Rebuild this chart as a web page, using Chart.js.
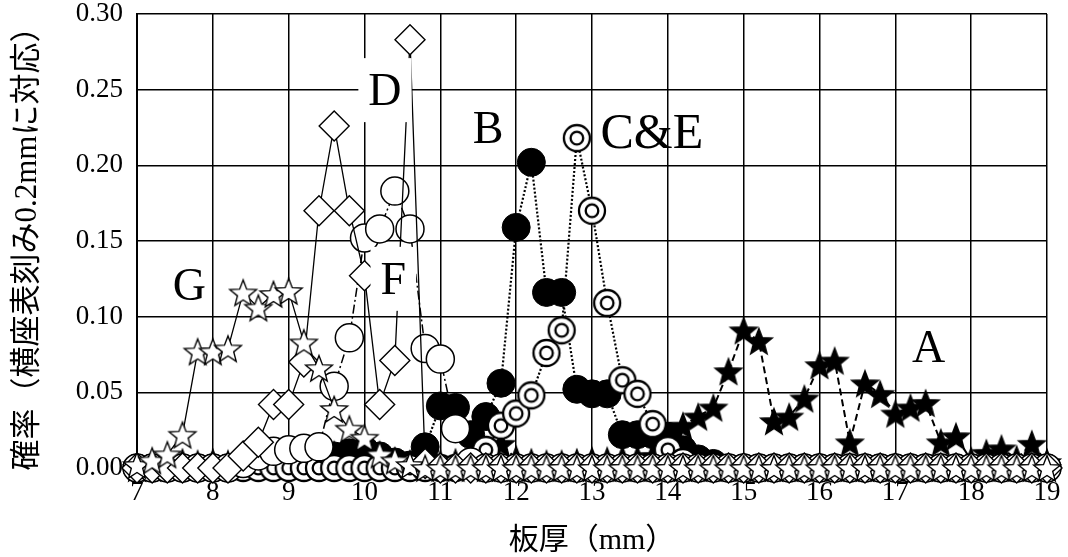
<!DOCTYPE html>
<html>
  <head>
    <title>板厚の確率分布</title>
    <script src="https://cdn.jsdelivr.net/npm/chart.js"></script>
    <style>
      html, body { margin: 0; padding: 0; background: #fff; }
    </style>
  </head>

  <body>
    <canvas id="bunpu" width="1068" height="557"></canvas>

    <script>
      // 板厚 (mm), 0.2mm刻み
      var thickness = [
        7.0, 7.2, 7.4, 7.6, 7.8, 8.0, 8.2, 8.4, 8.6, 8.8,
        9.0, 9.2, 9.4, 9.6, 9.8, 10.0, 10.2, 10.4, 10.6, 10.8,
        11.0, 11.2, 11.4, 11.6, 11.8, 12.0, 12.2, 12.4, 12.6, 12.8,
        13.0, 13.2, 13.4, 13.6, 13.8, 14.0, 14.2, 14.4, 14.6, 14.8,
        15.0, 15.2, 15.4, 15.6, 15.8, 16.0, 16.2, 16.4, 16.6, 16.8,
        17.0, 17.2, 17.4, 17.6, 17.8, 18.0, 18.2, 18.4, 18.6, 18.8,
        19.0
      ];

      var seriesA = [
        0, 0, 0.002, 0.004, 0.003, 0.004, 0.003, 0.004, 0.005, 0.004,
        0.005, 0.006, 0.008, 0.009, 0.010, 0.008, 0.006, 0.004, 0.003, 0.002,
        0.003, 0.004, 0.006, 0.008, 0.016, 0.006, 0.004, 0.003, 0.003, 0.004,
        0.005, 0.005, 0.006, 0.006, 0.008, 0.014, 0.028, 0.034, 0.040, 0.064,
        0.091, 0.084, 0.031, 0.034, 0.046, 0.068, 0.071, 0.017, 0.056, 0.049,
        0.036, 0.040, 0.043, 0.017, 0.021, 0.005, 0.010, 0.013, 0.006, 0.016,
        0.004
      ];

      var seriesB = [
        0, 0, 0, 0, 0, 0, 0, 0.002, 0.003, 0.004,
        0.004, 0.005, 0.006, 0.008, 0.010, 0.012, 0.008, 0.004, 0.002, 0.014,
        0.041, 0.040, 0.022, 0.034, 0.056, 0.159, 0.202, 0.116, 0.116, 0.052,
        0.049, 0.049, 0.022, 0.022, 0.022, 0.021, 0.012, 0.006, 0.003, 0,
        0, 0, 0, 0, 0, 0, 0, 0, 0, 0,
        0, 0, 0, 0, 0, 0, 0, 0, 0, 0,
        0
      ];

      var seriesCE = [
        0, 0, 0, 0, 0, 0, 0, 0, 0, 0,
        0, 0, 0, 0, 0, 0, 0, 0, 0, 0,
        0, 0, 0.004, 0.012, 0.028, 0.036, 0.048, 0.076, 0.091, 0.218,
        0.170, 0.109, 0.058, 0.049, 0.029, 0.012, 0.004, 0, 0, 0,
        0, 0, 0, 0, 0, 0, 0, 0, 0, 0,
        0, 0, 0, 0, 0, 0, 0, 0, 0, 0,
        0
      ];

      var seriesD = [
        0, 0, 0, 0, 0, 0, 0, 0.008, 0.017, 0.042,
        0.042, 0.070, 0.170, 0.226, 0.170, 0.127, 0.042, 0.071, 0.283, 0.003,
        0, 0, 0, 0, 0, 0, 0, 0, 0, 0,
        0, 0, 0, 0, 0, 0, 0, 0, 0, 0,
        0, 0, 0, 0, 0, 0, 0, 0, 0, 0,
        0, 0, 0, 0, 0, 0, 0, 0, 0, 0,
        0
      ];

      var seriesF = [
        0, 0, 0, 0, 0, 0, 0, 0.003, 0.008, 0.011,
        0.012, 0.013, 0.014, 0.054, 0.086, 0.152, 0.158, 0.183, 0.158, 0.079,
        0.072, 0.026, 0.004, 0, 0, 0, 0, 0, 0, 0,
        0, 0, 0, 0, 0, 0, 0, 0, 0, 0,
        0, 0, 0, 0, 0, 0, 0, 0, 0, 0,
        0, 0, 0, 0, 0, 0, 0, 0, 0, 0,
        0
      ];

      var seriesG = [
        0.002, 0.005, 0.009, 0.022, 0.077, 0.077, 0.079, 0.116, 0.106, 0.115,
        0.117, 0.083, 0.066, 0.039, 0.026, 0.020, 0.009, 0.005, 0.002, 0,
        0, 0, 0, 0, 0, 0, 0, 0, 0, 0,
        0, 0, 0, 0, 0, 0, 0, 0, 0, 0,
        0, 0, 0, 0, 0, 0, 0, 0, 0, 0,
        0, 0, 0, 0, 0, 0, 0, 0, 0, 0,
        0
      ];

      var yTicks = [0, 0.05, 0.1, 0.15, 0.2, 0.25, 0.3];

      // 図中の記号 (データ座標)
      var labelText = ["G", "D", "F", "B", "C&E", "A"];
      var labelX = [7.69, 10.27, 10.38, 11.63, 13.79, 17.44];
      var labelY = [0.1206, 0.2497, 0.125, 0.2246, 0.2213, 0.0797];
      var labelBox = [false, true, true, false, false, false];

      var serif = "'Liberation Serif', 'Times New Roman', serif";
      var jp = "'Liberation Serif', 'Noto Sans CJK JP', serif";

      function pares(valores) {
        return thickness.map(function (t, i) {
          return { x: t, y: valores[i] };
        });
      }

      function estrela(cheia) {
        var R = 14, r = 6, s = 34;
        var c = document.createElement("canvas");
        c.width = s;
        c.height = s;
        var g = c.getContext("2d");
        g.translate(s / 2, s / 2 + 1.5);
        g.beginPath();
        for (var i = 0; i < 10; i++) {
          var raio = i % 2 == 0 ? R : r;
          var a = -Math.PI / 2 + (i * Math.PI) / 5;
          g.lineTo(raio * Math.cos(a), raio * Math.sin(a));
        }
        g.closePath();
        g.fillStyle = cheia ? "#000" : "#fff";
        g.fill();
        g.lineWidth = 1.4;
        g.strokeStyle = "#000";
        g.stroke();
        return c;
      }

      function anel() {
        var s = 32;
        var c = document.createElement("canvas");
        c.width = s;
        c.height = s;
        var g = c.getContext("2d");
        g.translate(s / 2, s / 2);
        g.strokeStyle = "#000";
        g.lineWidth = 2.3;
        g.beginPath();
        g.arc(0, 0, 13, 0, 2 * Math.PI);
        g.fillStyle = "#fff";
        g.fill();
        g.stroke();
        g.beginPath();
        g.arc(0, 0, 6.3, 0, 2 * Math.PI);
        g.stroke();
        return c;
      }

      var rotulos = {
        id: "rotulos",
        afterDatasetsDraw: function (chart) {
          var ctx = chart.ctx;
          var sx = chart.scales.x;
          var sy = chart.scales.y;
          ctx.save();
          ctx.textAlign = "center";
          ctx.textBaseline = "alphabetic";
          labelText.forEach(function (t, i) {
            ctx.font = (t.length > 1 ? 50 : 46) + "px " + serif;
            var px = sx.getPixelForValue(labelX[i]);
            var py = sy.getPixelForValue(labelY[i]);
            if (labelBox[i]) {
              var w = ctx.measureText(t).width;
              ctx.fillStyle = "#fff";
              ctx.fillRect(px - w / 2 - 10, py - 32, w + 20, 64);
            }
            ctx.fillStyle = "#000";
            ctx.fillText(t, px, py + 15);
          });
          ctx.restore();
        },
      };

      var base = {
        fill: false,
        tension: 0,
        clip: false,
        borderColor: "#000",
        pointBorderColor: "#000",
      };

      var grafico = new Chart(document.getElementById("bunpu").getContext("2d"), {
        type: "line",
        data: {
          datasets: [
            Object.assign({}, base, {
              label: "G",
              data: pares(seriesG),
              order: 0,
              borderWidth: 1.3,
              pointStyle: estrela(false),
              pointRadius: 13,
            }),
            Object.assign({}, base, {
              label: "D",
              data: pares(seriesD),
              order: 1,
              borderWidth: 1.3,
              pointStyle: "rectRot",
              pointRadius: 15,
              pointBackgroundColor: "#fff",
              pointBorderWidth: 1.4,
            }),
            Object.assign({}, base, {
              label: "F",
              data: pares(seriesF),
              order: 2,
              borderWidth: 1.5,
              borderDash: [9, 3, 2, 3],
              pointStyle: "circle",
              pointRadius: 14,
              pointBackgroundColor: "#fff",
              pointBorderWidth: 1.5,
            }),
            Object.assign({}, base, {
              label: "C&E",
              data: pares(seriesCE),
              order: 3,
              borderWidth: 2.2,
              borderDash: [2, 2],
              pointStyle: anel(),
              pointRadius: 13,
            }),
            Object.assign({}, base, {
              label: "B",
              data: pares(seriesB),
              order: 4,
              borderWidth: 2.2,
              borderDash: [2, 2],
              pointStyle: "circle",
              pointRadius: 14,
              pointBackgroundColor: "#000",
              pointBorderWidth: 1,
            }),
            Object.assign({}, base, {
              label: "A",
              data: pares(seriesA),
              order: 5,
              borderWidth: 2,
              borderDash: [7, 4],
              pointStyle: estrela(true),
              pointRadius: 13,
            }),
          ],
        },
        options: {
          responsive: false,
          animation: false,
          events: [],
          layout: {
            autoPadding: false,
            padding: { top: 14, right: 21, bottom: 0, left: 0 },
          },
          plugins: {
            legend: { display: false },
            tooltip: { enabled: false },
          },
          scales: {
            x: {
              type: "linear",
              min: 7,
              max: 19,
              afterFit: function (scale) {
                scale.height = 89;
                scale.paddingLeft = 0;
                scale.paddingRight = 0;
              },
              ticks: {
                stepSize: 1,
                padding: 9,
                color: "#000",
                font: { family: serif, size: 27 },
              },
              grid: { color: "#000", lineWidth: 1.5, drawTicks: false },
              border: { color: "#000", width: 2 },
              title: {
                display: true,
                text: "板厚（mm）",
                color: "#000",
                font: { family: jp, size: 30, lineHeight: 1 },
                padding: { top: 0, bottom: 1 },
              },
            },
            y: {
              min: 0,
              max: 0.3,
              afterFit: function (scale) {
                scale.width = 137;
                scale.paddingTop = 0;
                scale.paddingBottom = 0;
              },
              afterBuildTicks: function (scale) {
                scale.ticks = yTicks.map(function (v) {
                  return { value: v };
                });
              },
              ticks: {
                padding: 14,
                color: "#000",
                font: { family: serif, size: 27 },
                callback: function (v) {
                  return v.toFixed(2);
                },
              },
              grid: { color: "#000", lineWidth: 1.5, drawTicks: false },
              border: { color: "#000", width: 2 },
              title: {
                display: true,
                text: "確率（横座表刻み0.2mmに対応）",
                color: "#000",
                font: { family: jp, size: 31, lineHeight: 1 },
                padding: { top: 12, bottom: 0 },
              },
            },
          },
        },
        plugins: [rotulos],
      });
    </script>
  </body>
</html>
